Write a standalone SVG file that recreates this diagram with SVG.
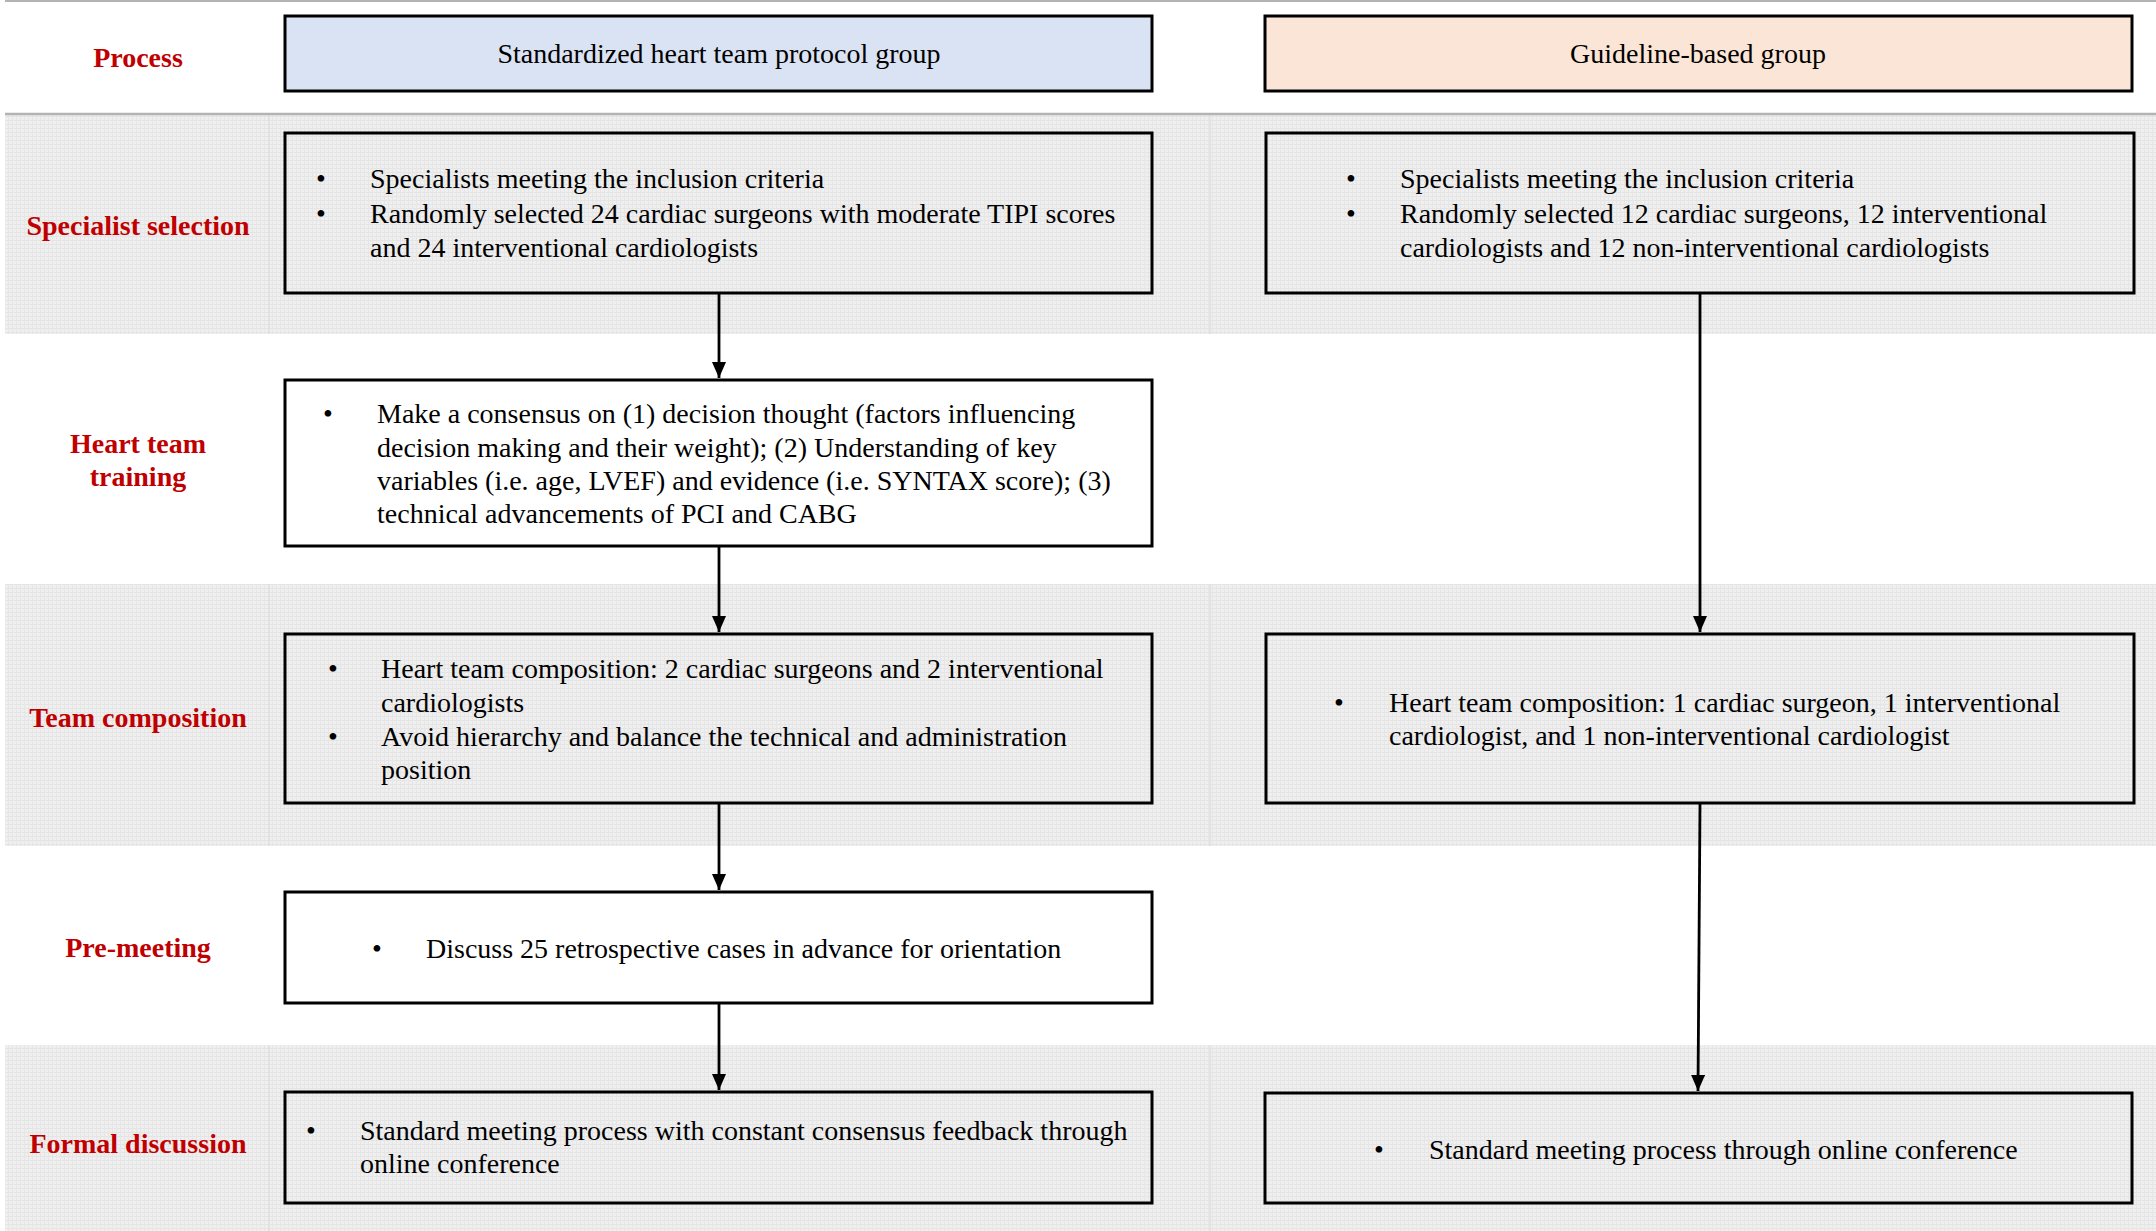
<svg xmlns="http://www.w3.org/2000/svg" width="2156" height="1231" viewBox="0 0 2156 1231">
<defs>
<pattern id="grid" width="4" height="4" patternUnits="userSpaceOnUse">
<rect width="4" height="4" fill="#efefef"/>
<rect x="0" y="0" width="4" height="1" fill="#e4e4e4"/>
<rect x="0" y="0" width="1" height="4" fill="#e6e6e6"/>
</pattern>
<marker id="arr" viewBox="0 0 16 14" refX="16" refY="7" markerWidth="16" markerHeight="14" markerUnits="userSpaceOnUse" orient="auto">
<path d="M0,0 L16,7 L0,14 Z" fill="#000"/>
</marker>
<style>
.band{fill:url(#grid)}
.sep{stroke:#dadada;stroke-width:1}
.box{fill:none;stroke:#000;stroke-width:3}
.wbox{fill:#fff;stroke:#000;stroke-width:3}
.lbl{font-family:"Liberation Serif","Times New Roman",serif;font-size:28px;font-weight:bold;fill:#c00000;text-anchor:middle}
.txt{font-family:"Liberation Serif","Times New Roman",serif;font-size:28px;fill:#000}
.hdr{font-family:"Liberation Serif","Times New Roman",serif;font-size:28px;fill:#000;text-anchor:middle}
.conn{stroke:#000;stroke-width:2.8;fill:none}
</style>
</defs>
<rect width="2156" height="1231" fill="#fff"/>
<g id="bands">
<rect class="band" x="5" y="114" width="2151" height="220"/>
<rect class="band" x="5" y="584" width="2151" height="262"/>
<rect class="band" x="5" y="1045" width="2151" height="186"/>
<line class="sep" x1="269" y1="114" x2="269" y2="334"/>
<line class="sep" x1="1210" y1="114" x2="1210" y2="334"/>
<line class="sep" x1="269" y1="584" x2="269" y2="846"/>
<line class="sep" x1="1210" y1="584" x2="1210" y2="846"/>
<line class="sep" x1="269" y1="1045" x2="269" y2="1231"/>
<line class="sep" x1="1210" y1="1045" x2="1210" y2="1231"/>
<line x1="5" y1="1" x2="2156" y2="1" stroke="#b3b3b3" stroke-width="2"/>
<line x1="5" y1="114" x2="2156" y2="114" stroke="#b3b3b3" stroke-width="2.5"/>
</g>
<g id="labels">
<text class="lbl" x="138" y="67">Process</text>
<text class="lbl" x="138" y="235">Specialist selection</text>
<text class="lbl" x="138" y="453">Heart team</text>
<text class="lbl" x="138" y="486">training</text>
<text class="lbl" x="138" y="727">Team composition</text>
<text class="lbl" x="138" y="957">Pre-meeting</text>
<text class="lbl" x="138" y="1153">Formal discussion</text>
</g>
<g id="header-standardized">
<rect x="285" y="16" width="867" height="75" fill="#dae3f3" stroke="#000" stroke-width="3"/>
<text class="hdr" x="719" y="63">Standardized heart team protocol group</text>
</g>
<g id="header-guideline">
<rect x="1265" y="16" width="867" height="75" fill="#fbe5d6" stroke="#000" stroke-width="3"/>
<text class="hdr" x="1698" y="63">Guideline-based group</text>
</g>
<g id="std-specialist">
<rect class="box" x="285" y="133" width="867" height="160"/>
<text class="txt"><tspan x="316" y="188">•</tspan><tspan x="370" y="188">Specialists meeting the inclusion criteria</tspan><tspan x="316" y="223">•</tspan><tspan x="370" y="223">Randomly selected 24 cardiac surgeons with moderate TIPI scores</tspan><tspan x="370" y="257">and 24 interventional cardiologists</tspan></text>
</g>
<g id="std-training">
<rect class="wbox" x="285" y="380" width="867" height="166"/>
<text class="txt"><tspan x="323" y="423">•</tspan><tspan x="377" y="423">Make a consensus on (1) decision thought (factors influencing</tspan><tspan x="377" y="457">decision making and their weight); (2) Understanding of key</tspan><tspan x="377" y="490">variables (i.e. age, LVEF) and evidence (i.e. SYNTAX score); (3)</tspan><tspan x="377" y="523">technical advancements of PCI and CABG</tspan></text>
</g>
<g id="std-composition">
<rect class="box" x="285" y="634" width="867" height="169"/>
<text class="txt"><tspan x="328" y="678">•</tspan><tspan x="381" y="678">Heart team composition: 2 cardiac surgeons and 2 interventional</tspan><tspan x="381" y="712">cardiologists</tspan><tspan x="328" y="746">•</tspan><tspan x="381" y="746">Avoid hierarchy and balance the technical and administration</tspan><tspan x="381" y="779">position</tspan></text>
</g>
<g id="std-premeeting">
<rect class="wbox" x="285" y="892" width="867" height="111"/>
<text class="txt"><tspan x="372" y="958">•</tspan><tspan x="426" y="958">Discuss 25 retrospective cases in advance for orientation</tspan></text>
</g>
<g id="std-formal">
<rect class="box" x="285" y="1092" width="867" height="111"/>
<text class="txt"><tspan x="306" y="1140">•</tspan><tspan x="360" y="1140">Standard meeting process with constant consensus feedback through</tspan><tspan x="360" y="1173">online conference</tspan></text>
</g>
<g id="gl-specialist">
<rect class="box" x="1266" y="133" width="868" height="160"/>
<text class="txt"><tspan x="1346" y="188">•</tspan><tspan x="1400" y="188">Specialists meeting the inclusion criteria</tspan><tspan x="1346" y="223">•</tspan><tspan x="1400" y="223">Randomly selected 12 cardiac surgeons, 12 interventional</tspan><tspan x="1400" y="257">cardiologists and 12 non-interventional cardiologists</tspan></text>
</g>
<g id="gl-composition">
<rect class="box" x="1266" y="634" width="868" height="169"/>
<text class="txt"><tspan x="1334" y="712">•</tspan><tspan x="1389" y="712">Heart team composition: 1 cardiac surgeon, 1 interventional</tspan><tspan x="1389" y="745">cardiologist, and 1 non-interventional cardiologist</tspan></text>
</g>
<g id="gl-formal">
<rect class="box" x="1265" y="1093" width="867" height="110"/>
<text class="txt"><tspan x="1374" y="1159">•</tspan><tspan x="1429" y="1159">Standard meeting process through online conference</tspan></text>
</g>
<g id="connectors">
<line class="conn" x1="719" y1="294" x2="719" y2="378" marker-end="url(#arr)"/>
<line class="conn" x1="719" y1="547" x2="719" y2="632" marker-end="url(#arr)"/>
<line class="conn" x1="719" y1="804" x2="719" y2="890" marker-end="url(#arr)"/>
<line class="conn" x1="719" y1="1004" x2="719" y2="1090" marker-end="url(#arr)"/>
<line class="conn" x1="1700" y1="294" x2="1700" y2="632" marker-end="url(#arr)"/>
<line class="conn" x1="1700" y1="804" x2="1698" y2="1091" marker-end="url(#arr)"/>
</g>
</svg>
